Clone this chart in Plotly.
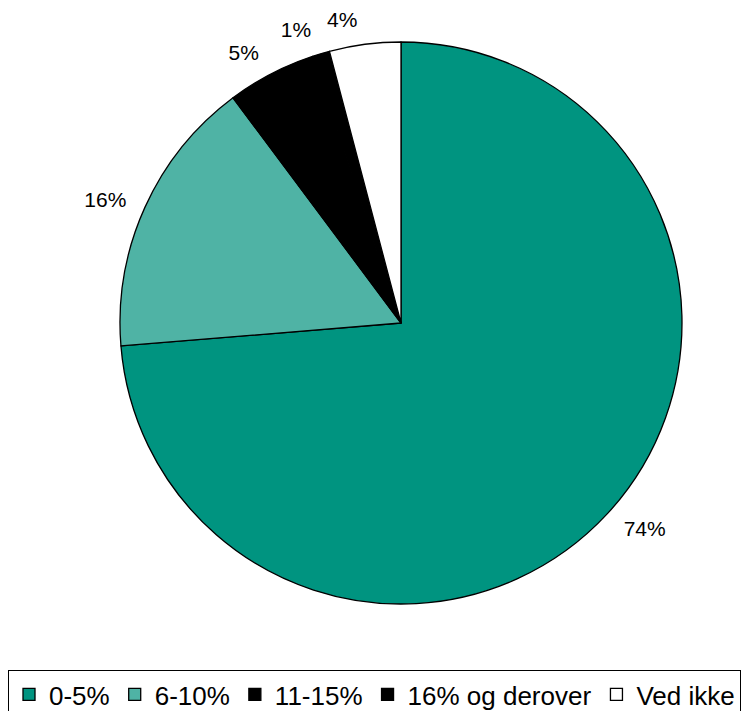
import plotly.graph_objects as go

categories = ["0-5%", "6-10%", "11-15%", "16% og derover", "Ved ikke"]
values = [73.7, 16.1, 5.1, 1.0, 4.1]
colors = ["#009480", "#4FB3A5", "#000000", "#000000", "#FFFFFF"]

W, H = 756, 711
OFF = 8  # page body margin
cx, cy, r = 401 - OFF, 323 - OFF, 281
r_lab = 295


def dom(rad):
    return dict(x=[(cx - rad) / W, (cx + rad) / W], y=[1 - (cy + rad) / H, 1 - (cy - rad) / H])


label_font = dict(family="Liberation Sans, Arial, sans-serif", size=21, color="#000000")

fig = go.Figure()
fig.add_trace(go.Pie(
    labels=categories,
    values=values,
    sort=False,
    direction="clockwise",
    rotation=0,
    marker=dict(colors=colors, line=dict(color="#000000", width=1.3)),
    textinfo="none",
    hoverinfo="label+percent",
    domain=dom(r),
))

# one overlay per label so that labels are not pushed apart (no leader lines)
total = sum(values)
for i in range(len(categories)):
    texts = [f"{round(values[i] / total * 100)}%" if j == i else "" for j in range(len(categories))]
    fig.add_trace(go.Pie(
        labels=categories,
        values=values,
        sort=False,
        direction="clockwise",
        rotation=0,
        marker=dict(colors=["rgba(0,0,0,0)"] * len(categories), line=dict(width=0)),
        text=texts,
        textinfo="text",
        textposition="outside",
        textfont=label_font,
        hoverinfo="skip",
        showlegend=False,
        domain=dom(r_lab),
    ))

fig.update_layout(
    width=W, height=H,
    margin=dict(l=0, r=0, t=0, b=0, autoexpand=False),
    paper_bgcolor="#FFFFFF",
    plot_bgcolor="#FFFFFF",
    showlegend=True,
    legend=dict(
        orientation="h",
        x=0, xanchor="left",
        y=1 - (670 - OFF) / H, yanchor="top",
        bordercolor="#000000", borderwidth=1,
        bgcolor="#FFFFFF",
        font=dict(family="Liberation Sans, Arial, sans-serif", size=26, color="#000000"),
        traceorder="normal",
    ),
)

fig.write_html("out.html")
